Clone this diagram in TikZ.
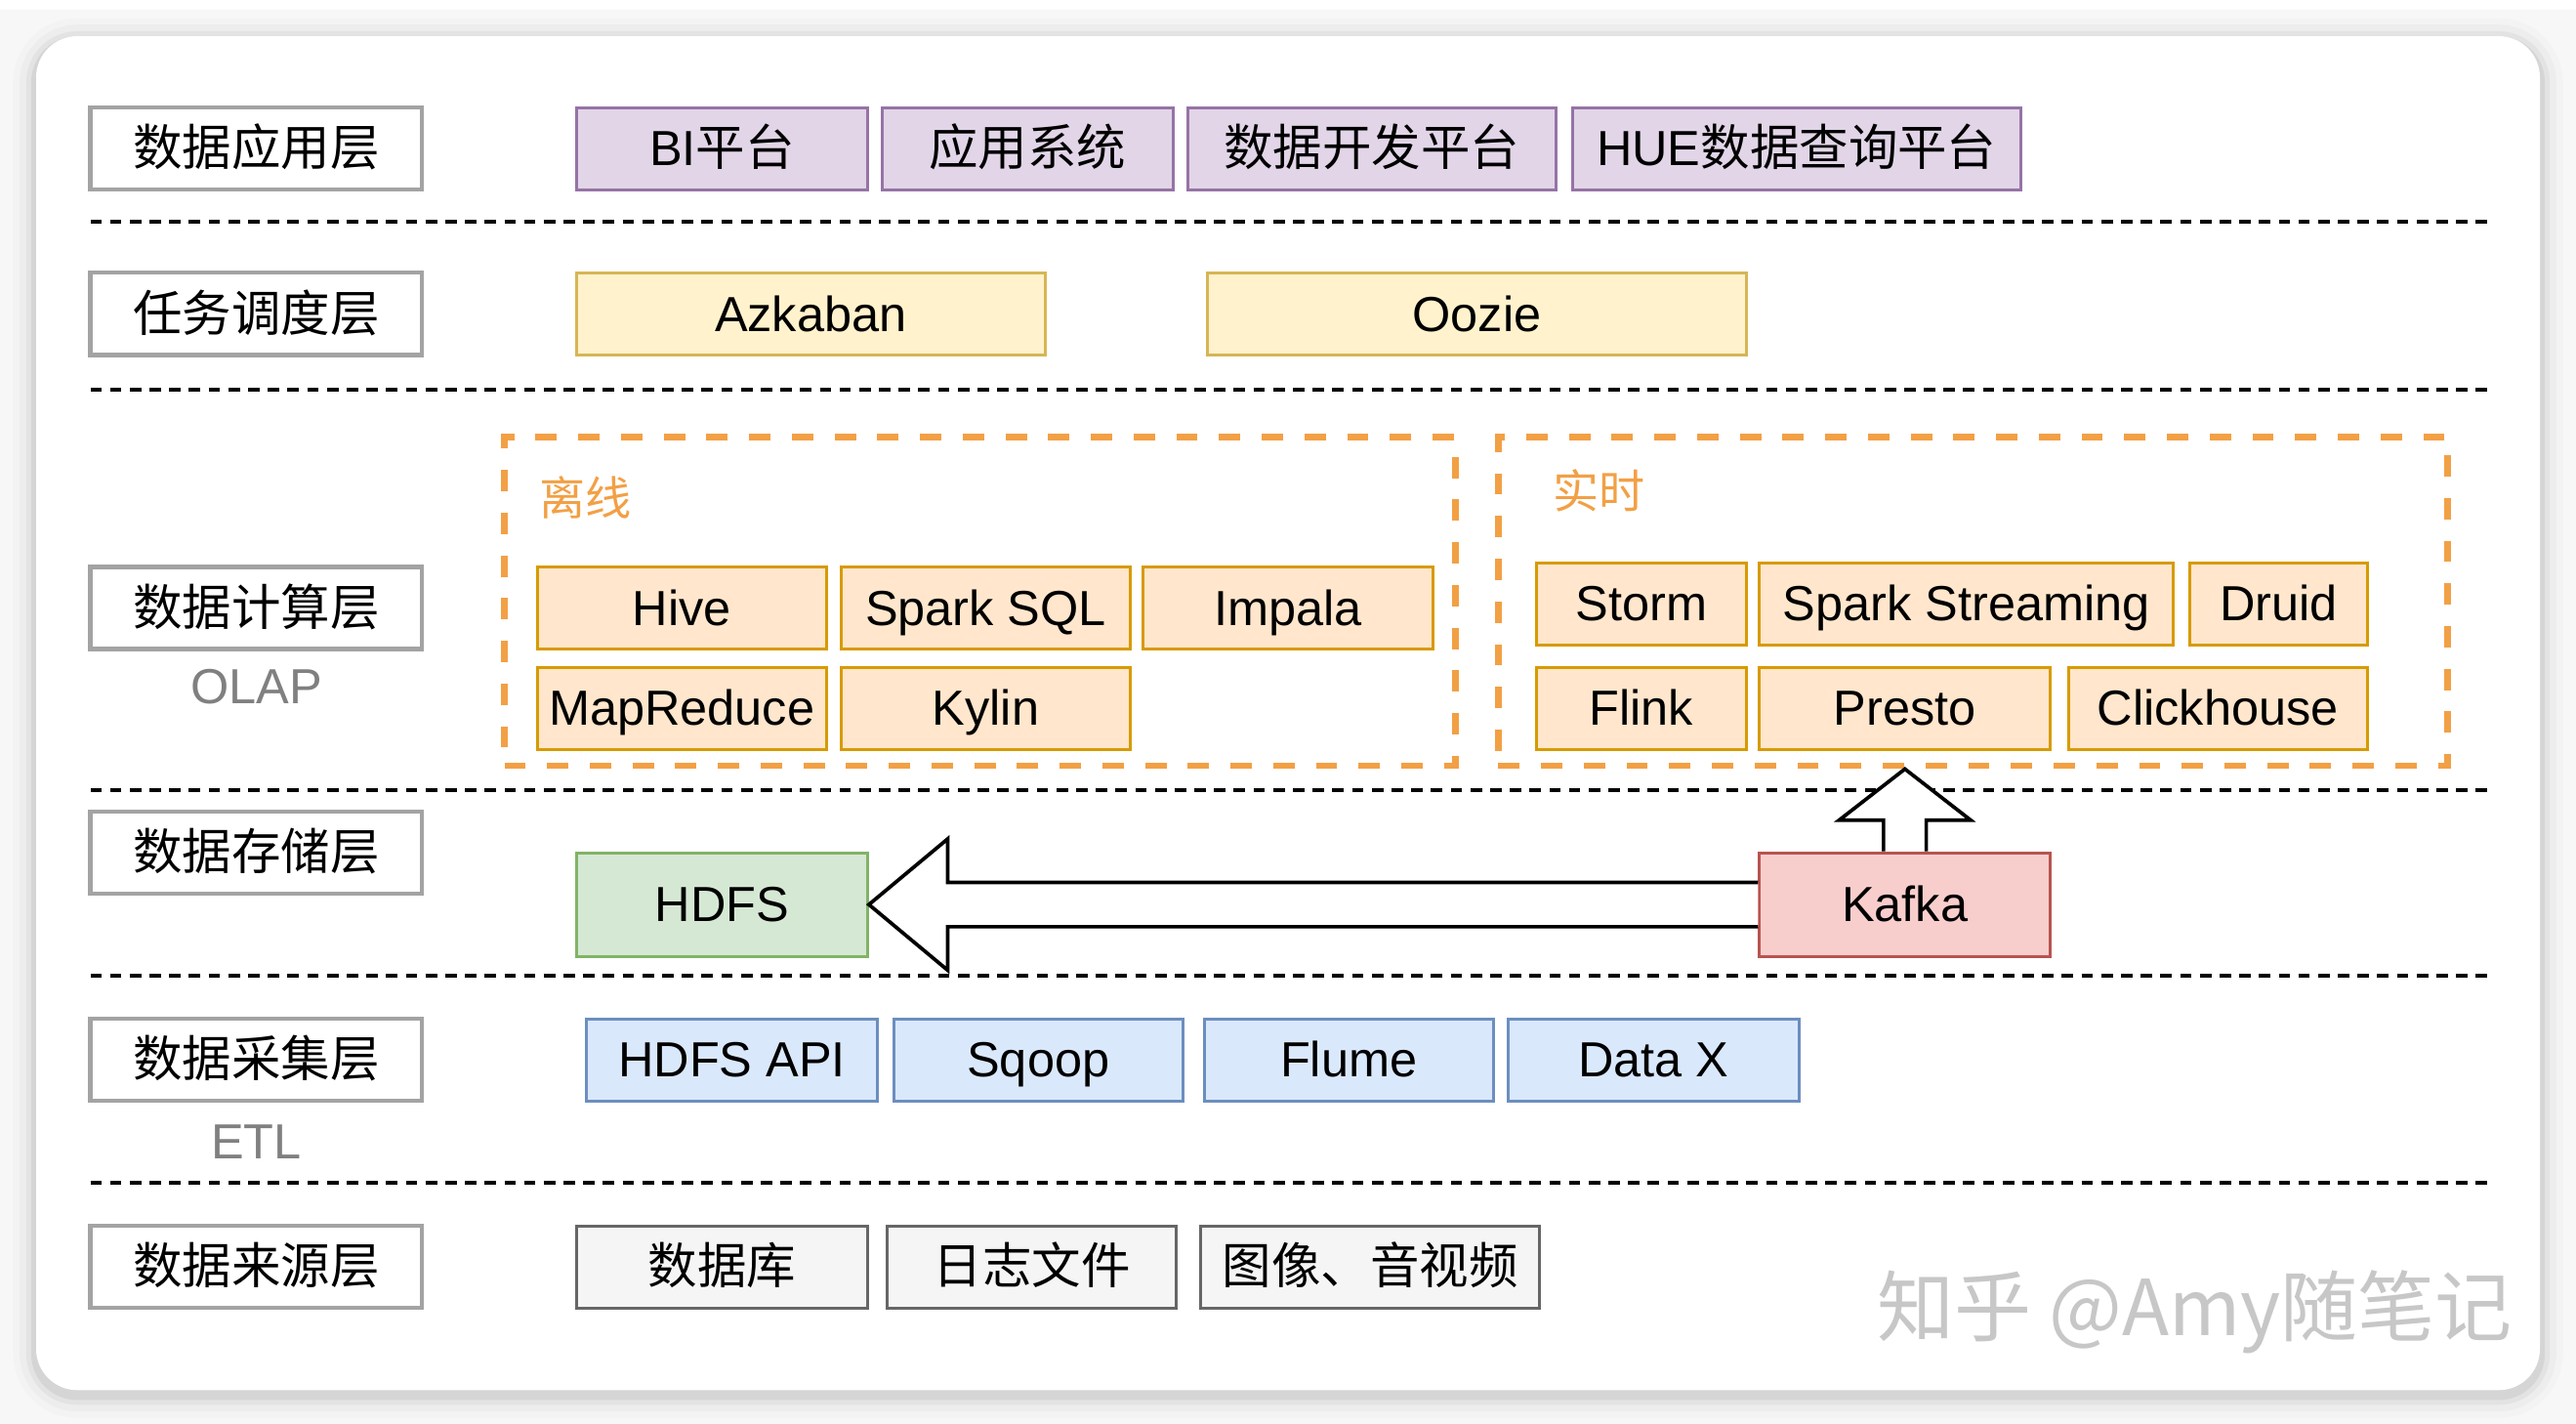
\documentclass[tikz,border=0pt]{standalone}
\usepackage{fontspec}
\setmainfont{Liberation Sans}
\newfontfamily\cjk{Noto Sans CJK SC}
\usepackage{tikz}
\usetikzlibrary{positioning,shapes.geometric,arrows}

\definecolor{laygray}{HTML}{A3A3A3}
\definecolor{appfill}{HTML}{E1D5E7}
\definecolor{appdraw}{HTML}{9673A6}
\definecolor{jobfill}{HTML}{FFF2CC}
\definecolor{jobdraw}{HTML}{D6B656}
\definecolor{calcfill}{HTML}{FFE6CC}
\definecolor{calcdraw}{HTML}{D79B00}
\definecolor{grouporange}{HTML}{F2A045}
\definecolor{storefill}{HTML}{D5E8D4}
\definecolor{storedraw}{HTML}{82B366}
\definecolor{kafkafill}{HTML}{F8CECC}
\definecolor{kafkadraw}{HTML}{B85450}
\definecolor{getfill}{HTML}{DAE8FC}
\definecolor{getdraw}{HTML}{6C8EBF}
\definecolor{srcfill}{HTML}{F5F5F5}
\definecolor{srcdraw}{HTML}{666666}

\begin{document}
\begin{tikzpicture}[x=1pt, y=-1pt,
  every node/.style={font=\fontsize{30}{36}\selectfont, inner sep=0pt, text height=25pt, text depth=4pt},
  layer/.style={draw=laygray, line width=2.5pt, fill=white, minimum width=202pt, minimum height=50pt},
  box/.style={line width=1.8pt, minimum height=50pt},
  apps/.style={box, draw=appdraw, fill=appfill},
  jobs/.style={box, draw=jobdraw, fill=jobfill},
  calc/.style={box, draw=calcdraw, fill=calcfill},
  store/.style={box, minimum height=63pt, minimum width=177pt},
  gets/.style={box, draw=getdraw, fill=getfill},
  srcs/.style={box, draw=srcdraw, fill=srcfill},
  group/.style={draw=grouporange, line width=4pt, dash pattern=on 13pt off 13pt, minimum height=200pt},
  sep/.style={line width=2.5pt, dash pattern=on 7pt off 5pt},
  block/.style={draw=black, fill=white, line width=2.2pt, line join=miter}]

\useasboundingbox (0,0) rectangle (1568,866.6);
\fill[white!97!black] (0,0) rectangle (1568,866.6);
\fill[white] (0,0) rectangle (1568,6);

% card with soft shadow
\foreach \s/\o/\r in {14/0.015/39, 10/0.025/35, 6/0.04/31, 3/0.06/28}
  \fill[black, opacity=\o, rounded corners=\r pt] (22-\s,22-\s+3) rectangle (1546+\s,846+\s+3);
\fill[white, rounded corners=25pt] (22,22) rectangle (1546,846);

% horizontal separators
\draw[sep] (55,135) -- (1515,135);
\draw[sep] (55,237) -- (1515,237);
\draw[sep] (55,481) -- (1515,481);
\draw[sep] (55,594) -- (1515,594);
\draw[sep] (55,720) -- (1515,720);

%1. application layer
\node[layer] (lapp) at (156,90.5) {\cjk 数据应用层};
\node[apps, minimum width=177pt] (bi) at (439.5,90.5) {BI{\cjk 平台}};
\node[apps, minimum width=177pt] (sys) at (625.5,90.5) {\cjk 应用系统};
\node[apps, minimum width=224pt] (dev) at (835,90.5) {\cjk 数据开发平台};
\node[apps, minimum width=273pt] (hue) at (1093.5,90.5) {HUE{\cjk 数据查询平台}};

%2. scheduling layer
\node[layer] (ljob) at (156,191) {\cjk 任务调度层};
\node[jobs, minimum width=285pt] (azk) at (493.5,191) {Azkaban};
\node[jobs, minimum width=328pt] (oozie) at (899,191) {Oozie};

%3. computing layer
\node[layer] (lcalc) at (156,370) {\cjk 数据计算层};
\node[text=gray] (olap) at (156,418) {OLAP};

% offline group
\node[group, minimum width=579pt] (off) at (596.5,366) {};
\node[anchor=west, text=grouporange, font=\fontsize{28}{34}\selectfont\cjk] (offlab) at (328,303) {离线};
\node[calc, minimum width=176pt] (hive) at (415,370) {Hive};
\node[calc, minimum width=176pt] (sql) at (600,370) {Spark SQL};
\node[calc, minimum width=176pt] (impala) at (784,370) {Impala};
\node[calc, minimum width=176pt] (mr) at (415,431) {MapReduce};
\node[calc, minimum width=176pt] (kylin) at (600,431) {Kylin};

% realtime group
\node[group, minimum width=578pt] (rt) at (1201,366) {};
\node[anchor=west, text=grouporange, font=\fontsize{28}{34}\selectfont\cjk] (rtlab) at (945,299) {实时};
\node[calc, minimum width=128pt] (storm) at (999,367.5) {Storm};
\node[calc, minimum width=252pt] (stream) at (1197,367.5) {Spark Streaming};
\node[calc, minimum width=108pt] (druid) at (1387,367.5) {Druid};
\node[calc, minimum width=128pt] (flink) at (999,431) {Flink};
\node[calc, minimum width=177pt] (presto) at (1159.5,431) {Presto};
\node[calc, minimum width=182pt] (click) at (1350,431) {Clickhouse};

%4. storage layer
\node[layer] (lstore) at (156,519) {\cjk 数据存储层};
\node[store, draw=storedraw, fill=storefill] (hdfs) at (439.5,550.5) {HDFS};
\node[store, draw=kafkadraw, fill=kafkafill] (kafka) at (1159.5,550.5) {Kafka};

% Kafka to HDFS
\draw[block] ([yshift=13.5pt]kafka.west) -- ([xshift=48pt,yshift=13.5pt]hdfs.east) -- ([xshift=48pt,yshift=40pt]hdfs.east) -- (hdfs.east) -- ([xshift=48pt,yshift=-40pt]hdfs.east) -- ([xshift=48pt,yshift=-13.5pt]hdfs.east) -- ([yshift=-13.5pt]kafka.west);

% Kafka up to realtime
\coordinate (tip) at (kafka.north |- rt.south);
\draw[block] ([xshift=-13pt]kafka.north) -- ([xshift=-13pt,yshift=19pt]kafka.north) -- ([xshift=-40pt,yshift=19pt]kafka.north) -- (tip) -- ([xshift=40pt,yshift=19pt]kafka.north) -- ([xshift=13pt,yshift=19pt]kafka.north) -- ([xshift=13pt]kafka.north);

%5. collection layer
\node[layer] (lget) at (156,645) {\cjk 数据采集层};
\node[text=gray] (etl) at (156,695) {ETL};
\node[gets, minimum width=177pt] (api) at (445.5,645) {HDFS API};
\node[gets, minimum width=176pt] (sqoop) at (632,645) {Sqoop};
\node[gets, minimum width=176pt] (flume) at (821,645) {Flume};
\node[gets, minimum width=177pt] (datax) at (1006.5,645) {Data X};

%6. source layer
\node[layer] (lsrc) at (156,771) {\cjk 数据来源层};
\node[srcs, minimum width=177pt] (db) at (439.5,771) {\cjk 数据库};
\node[srcs, minimum width=176pt] (log) at (628,771) {\cjk 日志文件};
\node[srcs, minimum width=206pt] (media) at (834,771) {\cjk 图像、音视频};

% watermark
\node[text=black!22, font=\fontsize{47}{54}\selectfont\cjk, text height=40pt, text depth=8pt] (mark) at (1336,797) {知乎 @Amy随笔记};

\end{tikzpicture}
\end{document}
